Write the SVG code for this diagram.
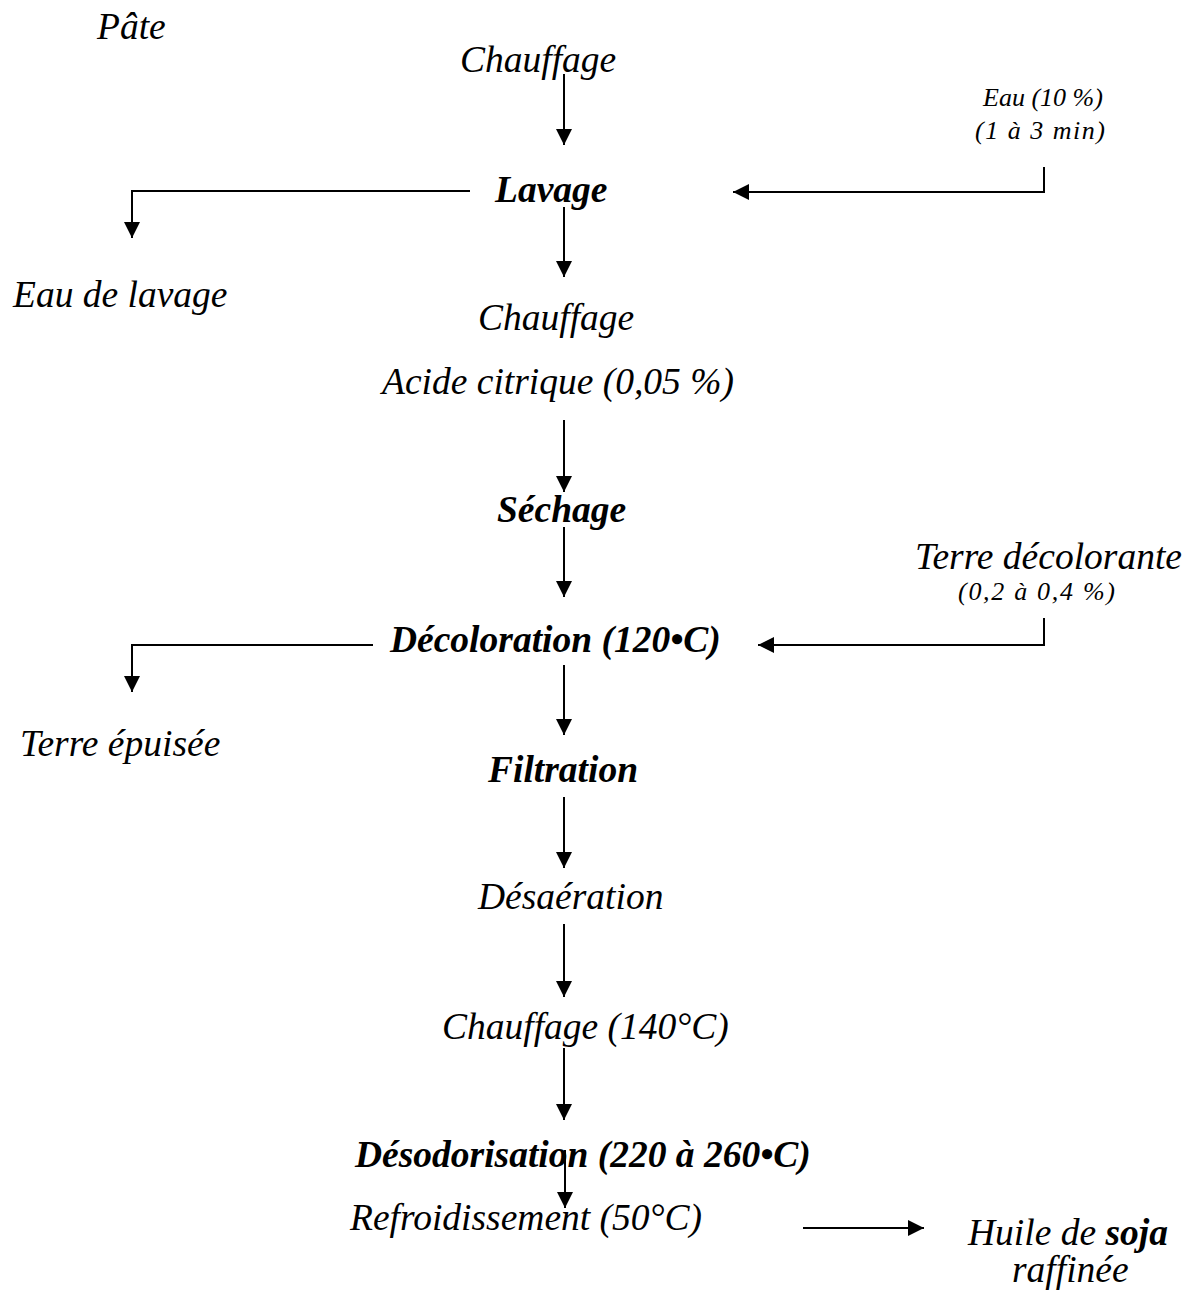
<svg xmlns="http://www.w3.org/2000/svg" width="1188" height="1302" viewBox="0 0 1188 1302">
  <style>
    text { font-family: "Liberation Serif", "Times New Roman", serif; font-style: italic; fill: #000; }
    .lg { font-size: 37.5px; }
    .sm { font-size: 26px; }
    .b { font-weight: bold; }
    .ln { stroke: #000; stroke-width: 2; fill: none; }
  </style>
  <defs>
    <marker id="arr" markerUnits="userSpaceOnUse" markerWidth="17" markerHeight="17" refX="16" refY="8" orient="auto">
      <path d="M0,0 L16,8 L0,16 Z" fill="#000"/>
    </marker>
  </defs>
  <rect width="1188" height="1302" fill="#fff"/>

  <g id="connectors">
    <line class="ln" x1="564" y1="74" x2="564" y2="145" marker-end="url(#arr)"/>
    <line class="ln" x1="564" y1="207" x2="564" y2="277" marker-end="url(#arr)"/>
    <line class="ln" x1="564" y1="420" x2="564" y2="492" marker-end="url(#arr)"/>
    <line class="ln" x1="564" y1="527" x2="564" y2="597" marker-end="url(#arr)"/>
    <line class="ln" x1="564" y1="665" x2="564" y2="735" marker-end="url(#arr)"/>
    <line class="ln" x1="564" y1="797" x2="564" y2="868" marker-end="url(#arr)"/>
    <line class="ln" x1="564" y1="924" x2="564" y2="997" marker-end="url(#arr)"/>
    <line class="ln" x1="564" y1="1048" x2="564" y2="1120" marker-end="url(#arr)"/>
    <line class="ln" x1="565" y1="1150" x2="565" y2="1208" marker-end="url(#arr)"/>
    <line class="ln" x1="803" y1="1228" x2="924" y2="1228" marker-end="url(#arr)"/>
    <polyline class="ln" points="470,191 132,191 132,238" marker-end="url(#arr)"/>
    <polyline class="ln" points="1044,167 1044,192 733,192" marker-end="url(#arr)"/>
    <polyline class="ln" points="373,645 132,645 132,692" marker-end="url(#arr)"/>
    <polyline class="ln" points="1044,618 1044,645 758,645" marker-end="url(#arr)"/>
  </g>

  <g id="pate"><text class="lg" x="97" y="39">Pâte</text></g>
  <g id="chauffage1"><text class="lg" x="460" y="72">Chauffage</text></g>
  <g id="eau-entree">
    <text class="sm" x="983" y="106">Eau (10 %)</text>
    <text class="sm" x="975" y="139" textLength="130" lengthAdjust="spacing">(1 à 3 min)</text>
  </g>
  <g id="lavage"><text class="lg b" x="495" y="202">Lavage</text></g>
  <g id="eau-lavage"><text class="lg" x="13" y="307">Eau de lavage</text></g>
  <g id="chauffage2"><text class="lg" x="478" y="330">Chauffage</text></g>
  <g id="acide"><text class="lg" x="382" y="394">Acide citrique (0,05 %)</text></g>
  <g id="sechage"><text class="lg b" x="497" y="522">Séchage</text></g>
  <g id="terre-decolorante">
    <text class="lg" x="915" y="569">Terre décolorante</text>
    <text class="sm" x="958" y="600" textLength="157" lengthAdjust="spacing">(0,2 à 0,4 %)</text>
  </g>
  <g id="decoloration"><text class="lg b" x="390" y="652">Décoloration (120•C)</text></g>
  <g id="terre-epuisee"><text class="lg" x="20" y="756">Terre épuisée</text></g>
  <g id="filtration"><text class="lg b" x="488" y="782">Filtration</text></g>
  <g id="desaeration"><text class="lg" x="478" y="909">Désaération</text></g>
  <g id="chauffage3"><text class="lg" x="442" y="1039">Chauffage (140°C)</text></g>
  <g id="desodorisation"><text class="lg b" x="355" y="1167">Désodorisation (220 à 260•C)</text></g>
  <g id="refroidissement"><text class="lg" x="350" y="1230">Refroidissement (50°C)</text></g>
  <g id="huile">
    <text class="lg" x="968" y="1245">Huile de <tspan class="b">soja</tspan></text>
    <text class="lg" x="1012" y="1282">raffinée</text>
  </g>
</svg>
